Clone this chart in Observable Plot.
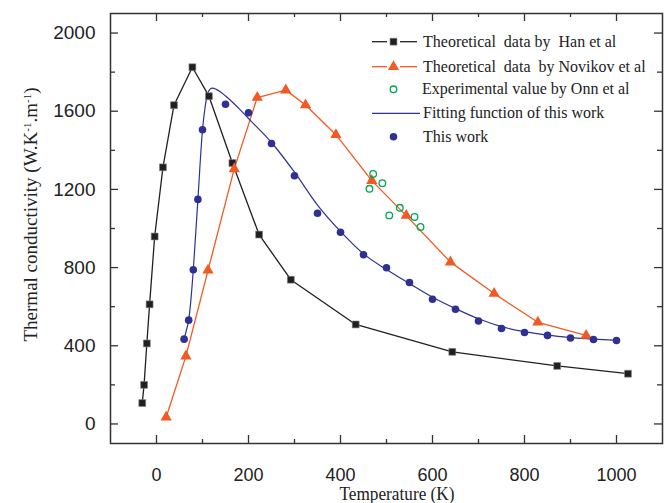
<!DOCTYPE html>
<html><head><meta charset="utf-8">
<script src="https://cdn.jsdelivr.net/npm/d3@7"></script>
<script src="https://cdn.jsdelivr.net/npm/@observablehq/plot@0.6"></script>
<style>body{margin:0;background:#fff}</style>
</head><body><div id="chart"></div>
<script>
// ---- Data ----
const hanT = [-31, -27, -21, -15, -4, 14, 38, 78, 114, 165, 223, 292, 433, 643, 871, 1025];
const hanK = [107, 200, 412, 612, 959, 1313, 1631, 1825, 1677, 1335, 969, 738, 509, 369, 297, 257];

const novT = [21, 64, 112, 169, 219, 281, 324, 390, 468, 543, 639, 734, 829, 934];
const novK = [34, 347, 786, 1305, 1670, 1708, 1632, 1480, 1245, 1066, 828, 667, 520, 453];

const onnT = [471, 491, 463, 529, 506, 561, 574];
const onnK = [1279, 1232, 1203, 1106, 1067, 1059, 1008];

const workT = [60, 70, 80, 90, 100, 150, 200, 250, 300, 350, 400, 450, 500, 550, 600, 650, 700, 750, 800, 850, 900, 950, 1000];
const workK = [434, 531, 789, 1149, 1505, 1636, 1592, 1435, 1270, 1078, 981, 866, 799, 724, 638, 587, 527, 488, 468, 453, 440, 432, 427];

const fitT = [60, 65, 70, 75, 80, 90, 100, 105, 110, 116, 122, 130, 140, 154, 180, 205, 250, 300, 350, 400, 450, 500, 550, 600, 650, 700, 750, 800, 850, 900, 950, 1000];
const fitK = [434, 480, 531, 640, 789, 1149, 1505, 1610, 1680, 1712, 1718, 1712, 1697, 1670, 1612, 1551, 1440, 1288, 1120, 985, 870, 790, 718, 648, 590, 538, 498, 472, 454, 442, 434, 428];

const xMajor = [0, 200, 400, 600, 800, 1000];
const xMinor = [100, 300, 500, 700, 900];
const yMajor = [0, 400, 800, 1200, 1600, 2000];
const yMinor = [200, 600, 1000, 1400, 1800];

const legendLabels = [
  "Theoretical  data by  Han et al",
  "Theoretical  data  by Novikov et al",
  "Experimental value by Onn et al",
  "Fitting function of this work",
  "This work"
];

// ---- Build tables ----
const zip = (T, K) => T.map((t, i) => ({t, k: K[i]}));
const han = zip(hanT, hanK), nov = zip(novT, novK), onn = zip(onnT, onnK),
      work = zip(workT, workK), fit = zip(fitT, fitK);

const BLACK = "#231f20", ORANGE = "#f15a24", GREEN = "#00a651", BLUE = "#2e3192", AX = "#333";
const W = 670, H = 503, mL = 110, mR = 8, mT = 13, mB = 60;
const iW = W - mL - mR, iH = H - mT - mB;
const fmt = d => String(d);

const chart = Plot.plot({
  width: W, height: H,
  marginLeft: mL, marginRight: mR, marginTop: mT, marginBottom: mB,
  style: {fontFamily: "'Liberation Sans', Arial, sans-serif", background: "#fff", color: "#222"},
  x: {domain: [-100, 1100]},
  y: {domain: [-100, 2100]},
  marks: [
    Plot.axisX({ticks: xMajor, tickSize: 0, tickPadding: 25, tickFormat: fmt, fontSize: 18, label: null}),
    Plot.axisY({ticks: yMajor, tickSize: 0, tickPadding: 15, tickFormat: fmt, fontSize: 19, label: null}),
    // inward ticks on all four sides
    Plot.tickX(xMajor, {x: d => d, insetTop: iH - 8, stroke: AX, strokeWidth: 1.3}),
    Plot.tickX(xMinor, {x: d => d, insetTop: iH - 4, stroke: AX, strokeWidth: 1.3}),
    Plot.tickX(xMajor, {x: d => d, insetBottom: iH - 8, stroke: AX, strokeWidth: 1.3}),
    Plot.tickX(xMinor, {x: d => d, insetBottom: iH - 4, stroke: AX, strokeWidth: 1.3}),
    Plot.tickY(yMajor, {y: d => d, insetRight: iW - 8, stroke: AX, strokeWidth: 1.3}),
    Plot.tickY(yMinor, {y: d => d, insetRight: iW - 5, stroke: AX, strokeWidth: 1.3}),
    Plot.tickY(yMajor, {y: d => d, insetLeft: iW - 8, stroke: AX, strokeWidth: 1.3}),
    Plot.tickY(yMinor, {y: d => d, insetLeft: iW - 5, stroke: AX, strokeWidth: 1.3}),
    Plot.frame({stroke: AX, strokeWidth: 1.5}),
    // series
    Plot.line(han, {x: "t", y: "k", stroke: BLACK, strokeWidth: 1.3}),
    Plot.line(nov, {x: "t", y: "k", stroke: ORANGE, strokeWidth: 1.3}),
    Plot.line(fit, {x: "t", y: "k", stroke: BLUE, strokeWidth: 1.2, curve: "monotone-x"}),
    Plot.dot(han, {x: "t", y: "k", symbol: "square", r: 3.9, fill: BLACK, stroke: "#888", strokeWidth: 0.6}),
    Plot.dot(nov, {x: "t", y: "k", symbol: "triangle", r: 4.2, fill: ORANGE, stroke: "none"}),
    Plot.dot(work, {x: "t", y: "k", symbol: "circle", r: 3.8, fill: BLUE, stroke: "none"}),
    Plot.dot(onn, {x: "t", y: "k", symbol: "circle", r: 3.3, fill: "none", stroke: GREEN, strokeWidth: 1.3})
  ]
});

const svg = d3.select(chart);
const SERIF = "'Liberation Serif', 'Times New Roman', serif";

// axis titles
svg.append("text")
  .attr("x", 397).attr("y", 500)
  .attr("text-anchor", "middle")
  .attr("textLength", 115).attr("lengthAdjust", "spacingAndGlyphs")
  .style("font-family", SERIF).style("font-size", "18px").attr("fill", "#222")
  .text("Temperature (K)");

const yt = svg.append("text")
  .attr("transform", "translate(36.5,214.5) rotate(-90)")
  .attr("text-anchor", "middle")
  .style("font-family", SERIF).style("font-size", "19px").attr("fill", "#222");
yt.append("tspan").text("Thermal conductivity (W.K");
yt.append("tspan").attr("font-size", "11px").attr("baseline-shift", "super").text("-1");
yt.append("tspan").text(".m");
yt.append("tspan").attr("font-size", "11px").attr("baseline-shift", "super").text("-1");
yt.append("tspan").text(")");

// legend
const rows = [41.7, 66.7, 89.3, 113.3, 136.7];
const lg = svg.append("g").attr("text-anchor", "start");
const mx = 393.5;
// row 1
lg.append("line").attr("x1", 372).attr("x2", 387).attr("y1", rows[0]).attr("y2", rows[0]).attr("stroke", BLACK).attr("stroke-width", 1.3);
lg.append("line").attr("x1", 400).attr("x2", 417).attr("y1", rows[0]).attr("y2", rows[0]).attr("stroke", BLACK).attr("stroke-width", 1.3);
lg.append("path").attr("d", d3.symbol(d3.symbolSquare, Math.PI * 3.9 * 3.9)()).attr("transform", `translate(${mx},${rows[0]})`).attr("fill", BLACK).attr("stroke", "#888").attr("stroke-width", 0.6);
// row 2
lg.append("line").attr("x1", 372).attr("x2", 387).attr("y1", rows[1]).attr("y2", rows[1]).attr("stroke", ORANGE).attr("stroke-width", 1.3);
lg.append("line").attr("x1", 400).attr("x2", 417).attr("y1", rows[1]).attr("y2", rows[1]).attr("stroke", ORANGE).attr("stroke-width", 1.3);
lg.append("path").attr("d", d3.symbol(d3.symbolTriangle, Math.PI * 4.2 * 4.2)()).attr("transform", `translate(${mx},${rows[1]})`).attr("fill", ORANGE);
// row 3
lg.append("circle").attr("cx", mx).attr("cy", rows[2]).attr("r", 3.3).attr("fill", "none").attr("stroke", GREEN).attr("stroke-width", 1.3);
// row 4
lg.append("line").attr("x1", 372).attr("x2", 420).attr("y1", rows[3]).attr("y2", rows[3]).attr("stroke", BLUE).attr("stroke-width", 1.2);
// row 5
lg.append("circle").attr("cx", mx).attr("cy", rows[4]).attr("r", 3.8).attr("fill", BLUE);

const textX = [423, 423, 422, 423, 423];
legendLabels.forEach((s, i) => {
  lg.append("text").attr("x", textX[i]).attr("y", rows[i] + 5)
    .attr("text-anchor", "start")
    .style("font-family", SERIF).style("font-size", "16px").style("white-space", "pre")
    .attr("xml:space", "preserve").attr("fill", "#222").text(s);
});

document.getElementById("chart").appendChild(chart);
</script>
</body></html>
